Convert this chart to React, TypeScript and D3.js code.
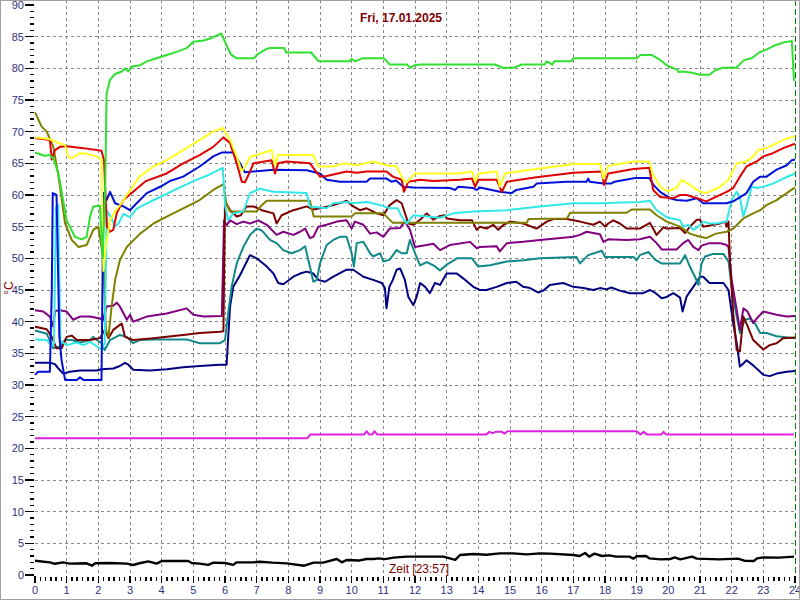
import React from 'react';
import * as d3 from 'd3';

type Pt = [number, number];

// hour of day, °C
const greenData: Pt[] = [[0,66.7],[0.3,66.2],[0.47,66.3],[0.58,65.8],[0.74,63.4],[1.0,56],[1.26,53.4],[1.47,53],[1.63,53.4],[1.74,56.6],[1.84,58.2],[2.05,58.3],[2.14,50],[2.22,62],[2.26,76],[2.37,78.2],[2.53,79.1],[2.74,79.5],[2.84,80],[2.95,79.5],[3.05,80.3],[3.32,80.5],[3.53,81.1],[3.84,81.6],[4.16,82.1],[4.47,82.6],[4.79,83.2],[5.0,84.2],[5.32,84.4],[5.58,84.8],[5.88,85.5],[6.18,82.2],[6.36,81.6],[6.91,81.6],[7.03,82.2],[7.21,82.8],[7.39,83.2],[7.87,83.2],[7.93,82.5],[8.72,82.5],[8.96,81.1],[9.93,81.1],[9.99,81.5],[10.11,81.1],[10.35,81.6],[11.02,81.6],[11.2,80.6],[11.74,80.6],[11.86,80.1],[11.99,80.5],[12.17,80.6],[14.52,80.6],[14.77,80.1],[15.13,80.1],[15.37,80.6],[16.1,80.6],[16.16,81.1],[16.34,80.6],[16.4,81.1],[16.94,81.1],[17.0,81.6],[19.0,81.6],[19.12,82.1],[19.48,82.1],[19.72,81.4],[19.97,80.4],[20.27,79.8],[20.33,79.4],[20.45,79.5],[20.75,79.3],[20.99,79.0],[21.3,79.0],[21.48,79.7],[21.72,80.1],[22.14,80.1],[22.39,81.3],[22.63,81.6],[22.87,82.5],[23.11,83.0],[23.35,83.6],[23.65,84.1],[23.9,84.3],[23.97,78]];

const yellowData: Pt[] = [[0,69.1],[0.47,68.8],[0.74,68.2],[0.95,67.9],[1.05,66.1],[1.16,65.8],[1.42,66.6],[1.63,66.5],[1.95,66.1],[2.1,65.6],[2.16,48],[2.24,52],[2.37,56],[2.53,57.4],[2.7,58.5],[2.9,60],[3.3,62.9],[3.74,64.5],[4.16,65.5],[4.68,67.1],[5.2,68.7],[5.63,70.0],[5.93,70.6],[6.16,68.7],[6.37,66.1],[6.53,63.7],[6.63,64.5],[6.79,66],[7.3,66.8],[7.47,67.1],[7.58,64.7],[7.68,66.3],[8.79,66.3],[8.95,64.5],[9.42,64.5],[9.74,65],[10.16,64.7],[10.68,65.3],[11.1,64.7],[11.42,64.5],[11.63,62.4],[11.74,62.0],[12.0,63.4],[13.4,63.4],[13.8,63.7],[13.9,62.1],[14.0,63.4],[14.58,63.7],[14.68,61.3],[14.84,63.4],[15.95,64.2],[17.0,64.9],[17.84,64.9],[17.95,62.6],[18.1,64.6],[18.9,65.3],[19.4,65.3],[19.5,63.4],[19.74,61.3],[19.97,60.6],[20.26,61.1],[20.42,62.4],[20.68,61.6],[21.0,60.5],[21.2,60.3],[21.63,61.3],[21.9,62.4],[22.16,65],[22.47,65.3],[22.68,66.1],[22.84,67.1],[23.1,67.4],[23.42,68.2],[23.74,68.9],[24.0,69.3]];

const redData: Pt[] = [[0,69],[0.47,68.7],[0.53,65.6],[0.63,67.1],[0.79,67.6],[1.0,67.7],[1.53,67.4],[2.1,67],[2.18,65.5],[2.27,55],[2.37,54.2],[2.47,54.5],[2.58,57.1],[2.79,59.2],[3.1,60.5],[3.5,62.2],[4.16,63.4],[4.68,65],[5.2,66.3],[5.63,67.6],[5.95,69.1],[6.16,68.2],[6.37,65],[6.53,62.1],[6.63,62],[6.79,63.7],[6.9,65],[7.47,65.5],[7.58,63.4],[7.68,65],[7.95,65.3],[8.68,65],[9.0,62.9],[9.21,63],[9.84,63.7],[10.16,63.5],[10.47,63.7],[11.1,63.7],[11.3,62.9],[11.58,62.4],[11.65,60.5],[11.79,62.1],[12.16,62.4],[12.58,62.2],[13.42,62.4],[13.8,62.6],[13.9,61.3],[14.0,62.4],[14.58,62.4],[14.74,60.5],[14.9,62.1],[15.84,62.8],[17.0,63.5],[17.9,63.7],[17.97,61.6],[18.1,63.4],[18.9,64.1],[19.4,64.3],[19.52,60.8],[19.74,59.7],[20.16,59.5],[20.37,60],[20.58,60],[20.9,59.5],[21.2,59],[21.42,59.5],[21.84,60.5],[22.05,61.1],[22.26,62.9],[22.47,64.5],[22.79,65.3],[23.0,66.1],[23.3,66.6],[23.63,67.4],[24.0,68.1]];

const blueData: Pt[] = [[0,31.6],[0.1,32.1],[0.47,32.1],[0.53,45],[0.56,60.3],[0.68,60],[0.77,37.6],[0.84,33.9],[0.95,30.8],[1.32,30.8],[1.42,31.2],[1.53,30.8],[2.1,30.8],[2.16,60.3],[2.26,59.2],[2.37,60.5],[2.53,58.7],[2.79,58.2],[3.0,57.6],[3.21,58.7],[3.53,60.3],[3.95,61.3],[4.26,62.2],[4.68,62.9],[5.2,64.5],[5.63,66.1],[5.89,66.7],[6.26,66.7],[6.47,65],[6.63,63.6],[7.53,64],[8.58,63.9],[9.0,63.4],[9.21,62.4],[9.63,62.1],[10.47,62.1],[10.58,62.6],[11.1,62.6],[11.26,62.1],[11.4,62.3],[11.63,61.3],[11.95,61.2],[13.1,61.1],[13.26,60.8],[13.37,61.3],[13.84,61.1],[13.95,60.8],[14.05,61.2],[14.68,60.5],[15.05,60.3],[15.2,60.8],[15.74,61.3],[15.84,61.8],[16.79,62.1],[17.42,62.1],[17.47,62.6],[17.52,62.1],[17.95,61.8],[18.2,61.8],[18.3,62.1],[18.95,62.7],[19.4,62.7],[19.53,61.6],[19.74,60.5],[20.05,59.5],[20.26,59.2],[20.58,59.1],[20.9,59.5],[21.1,58.7],[21.84,58.7],[22.05,59],[22.47,60.3],[22.68,62.1],[22.9,62.9],[23.1,62.9],[23.42,64],[23.74,64.7],[23.9,65.5],[24.0,65.6]];

const cyanData: Pt[] = [[0,37.2],[0.37,37.1],[0.53,36.2],[0.6,36.5],[0.66,58],[0.73,58.5],[0.8,37],[0.84,36.8],[1.0,36.3],[1.32,36.7],[1.53,36.3],[1.74,36.8],[2.1,35.6],[2.2,36.6],[2.27,57.5],[2.4,56.5],[2.53,55],[2.65,55.6],[2.79,57],[3.0,56.5],[3.2,57.8],[3.5,58.6],[4.0,59.8],[4.5,61],[5.0,62.2],[5.5,63.2],[5.93,64.3],[6.0,58.4],[6.1,56],[6.26,57.1],[6.58,57.4],[6.79,60.3],[7.1,61],[7.53,60.5],[8.58,60.3],[8.68,58.2],[9.21,57.9],[9.42,58.7],[9.84,58.9],[10.05,58.7],[10.47,58.9],[10.9,58.4],[11.2,57.9],[11.45,57.9],[11.58,56.6],[11.74,55.5],[11.95,56.8],[12.37,56.6],[12.79,56.4],[13.21,57.1],[13.84,57.4],[14.9,57.6],[15.95,58.2],[17.0,58.7],[17.95,58.7],[18.5,58.8],[19.1,58.9],[19.42,59.1],[19.63,57.6],[19.95,56.5],[20.37,56],[20.47,55],[20.63,55.3],[20.79,54.5],[20.95,55],[21.1,55.8],[21.3,55.5],[21.5,55.5],[21.84,55.8],[22.0,59.2],[22.16,60.5],[22.26,59.7],[22.37,56.6],[22.47,58.2],[22.63,61.3],[22.79,61.1],[23.0,61.3],[23.3,61.8],[23.63,62.6],[24.0,63.4]];

const oliveData: Pt[] = [[0,73.05],[0.21,70.8],[0.37,70],[0.58,67.6],[0.74,63],[0.84,59.5],[0.95,55.5],[1.16,52.9],[1.37,51.8],[1.63,52.1],[1.84,54.5],[2.0,55],[2.1,51.8],[2.16,49.7],[2.24,38.7],[2.32,37.6],[2.42,42.4],[2.53,46.6],[2.68,49.7],[2.9,51.8],[3.32,53.9],[3.74,55.5],[4.16,56.6],[4.68,57.9],[5.2,59.2],[5.63,60.8],[5.95,61.7],[6.05,58.5],[6.16,57.4],[7.0,57.4],[7.16,58.4],[7.32,59.1],[8.68,59.1],[8.8,56.6],[10.0,56.6],[10.1,57.1],[11.0,57.1],[11.3,55.6],[15.53,55.6],[15.58,56.2],[16.8,56.3],[16.9,57.2],[18.68,57.2],[18.84,57.7],[19.42,57.7],[19.63,56.8],[19.95,55.8],[20.37,55],[20.68,53.9],[21.0,53.4],[21.2,53.2],[21.5,53.9],[21.84,54.2],[22.05,54.7],[22.37,56.3],[22.68,57.1],[22.9,57.6],[23.1,58.4],[23.42,59.2],[23.74,60.3],[24.0,61.2]];

const maroonData: Pt[] = [[0,39.2],[0.37,38.8],[0.53,37.6],[0.68,35.8],[0.84,35.8],[1.0,37.6],[1.16,37.8],[1.32,37.1],[1.74,37.1],[2.05,37.4],[2.2,38.7],[2.32,37.4],[2.47,38.7],[2.68,39.5],[2.74,39.7],[2.84,37.6],[3.1,37.1],[3.74,37.4],[4.16,37.6],[4.68,37.9],[5.2,38.2],[5.84,38.4],[5.95,38.5],[6.0,59],[6.16,57.6],[6.37,56.6],[6.5,56.8],[6.68,58.2],[6.9,58.2],[7.16,57.6],[7.53,57.1],[7.63,55.5],[7.79,56.8],[8.16,57.6],[8.58,58.2],[8.79,57.7],[9.0,57.9],[9.42,58.4],[9.74,58.9],[9.84,59.1],[10.05,58.2],[10.26,57.6],[10.47,57.9],[10.79,57.1],[11.0,56.8],[11.2,58.4],[11.42,59.2],[11.58,58.7],[11.79,55.5],[11.95,55.3],[12.16,56.1],[12.37,57.1],[12.58,56.1],[12.79,56.7],[12.95,56.8],[13.0,56.3],[13.42,56],[13.8,56],[13.95,54.5],[14.05,55],[14.26,54.7],[14.47,55.3],[14.63,54.5],[14.8,55.3],[15.0,55.8],[15.42,55.5],[15.84,54.7],[16.16,55.8],[16.37,56.2],[16.79,56.2],[17.21,55.8],[17.63,55.3],[17.84,55.8],[18.0,55],[18.1,55.5],[18.26,56],[18.47,55.5],[18.68,54.7],[19.1,54.7],[19.42,55.6],[19.63,53.7],[19.84,54.9],[19.95,54.7],[20.37,54.8],[20.53,54],[20.68,55],[20.9,56.1],[21.0,56.1],[21.1,55],[21.3,55.2],[21.63,55.5],[21.79,55.8],[21.84,55],[21.9,55.8],[21.95,49.2],[22.05,41.3],[22.16,35.5],[22.26,35.3],[22.37,40.8],[22.47,39.7],[22.68,37.1],[23.0,35.6],[23.2,36.3],[23.42,36.6],[23.63,37.4],[24.0,37.5]];

const purpleData: Pt[] = [[0,41.8],[0.26,41.6],[0.47,40.8],[0.58,39.2],[0.63,41.7],[0.79,41.8],[1.0,41.6],[1.21,40.3],[1.42,40.8],[1.74,40.8],[2.05,40.5],[2.15,40.3],[2.26,42.4],[2.47,42.5],[2.58,43],[2.68,42.4],[2.9,40.3],[3.0,41.1],[3.1,40],[3.53,40.8],[4.16,41.3],[4.79,42.1],[5.0,41.1],[5.32,40.8],[5.9,40.9],[5.97,56],[6.05,55.2],[6.16,56],[6.37,55.4],[6.58,55.8],[6.79,55.5],[7.05,56],[7.32,55.3],[7.63,53.7],[7.84,54.2],[8.16,53.7],[8.37,54.2],[8.53,54.7],[8.68,53.2],[8.79,53.4],[8.95,55],[9.21,55.3],[9.53,55.8],[9.84,56],[10.0,54.7],[10.1,55.8],[10.37,55.3],[10.58,53.9],[10.79,54.1],[11.0,53.4],[11.2,54.7],[11.53,54.8],[11.68,55.8],[11.84,54.5],[12.0,51.8],[12.37,52.1],[12.58,52.3],[12.79,51.3],[13.1,52.1],[13.74,52.6],[13.95,51.6],[14.05,51.8],[14.58,51.9],[14.68,51.1],[14.9,52.4],[15.42,52.6],[15.95,52.9],[17.0,53.4],[17.21,53.7],[17.42,54.2],[17.84,53.8],[17.95,52.6],[18.1,53],[18.68,52.9],[19.1,53],[19.42,53.4],[19.63,52.4],[19.79,51.4],[20.26,51.4],[20.47,52.4],[20.63,52.9],[20.79,51.8],[20.95,51.3],[21.05,52],[21.3,52.4],[21.63,52.4],[21.84,52.1],[21.9,51.8],[22.0,46.6],[22.16,41.8],[22.26,38.7],[22.37,42.1],[22.5,41.6],[22.68,39.8],[22.79,40.5],[23.0,41.6],[23.42,41.1],[23.74,40.8],[24.0,40.9]];

const tealData: Pt[] = [[0,38.6],[0.37,38.1],[0.58,35.8],[0.79,36.1],[0.95,37.1],[1.16,37.1],[1.42,36.7],[1.74,37.1],[1.84,37.6],[1.95,37.1],[2.1,36.6],[2.2,35.5],[2.37,37.1],[2.68,37.9],[2.9,37.6],[3.1,36.6],[3.3,37.1],[3.74,37.2],[4.79,37.2],[5.2,36.6],[5.84,36.6],[6.0,37.1],[6.1,41.3],[6.21,45.5],[6.37,49.2],[6.58,51.8],[6.79,53.7],[7.0,54.7],[7.16,54.4],[7.42,52.9],[7.63,52.4],[7.84,51.3],[8.1,50.8],[8.37,51.3],[8.53,51.9],[8.68,48.7],[8.79,46.3],[8.9,46.6],[9.0,49.2],[9.21,52.1],[9.42,52.9],[9.63,53.4],[9.84,53.4],[10.0,50.8],[10.07,48.7],[10.16,52.4],[10.37,52.6],[10.58,50.8],[10.68,50.3],[10.9,50.8],[11.0,49.5],[11.2,49.8],[11.42,51.3],[11.58,50.8],[11.74,50.8],[11.84,52.9],[12.0,50.8],[12.16,48.9],[12.37,49.4],[12.58,48.9],[12.79,48.1],[13.0,49],[13.2,49.6],[13.32,50],[13.8,50],[14.0,48.7],[14.37,48.9],[14.9,49.5],[15.42,49.7],[15.95,50],[17.1,50.2],[17.21,49.2],[17.47,50.5],[17.9,51.2],[18.0,50.2],[18.9,50.2],[19.0,49.7],[19.1,50.5],[19.37,51],[19.58,49.8],[19.79,49.2],[20.37,49.2],[20.53,50.5],[20.68,48.7],[20.84,47.1],[20.95,45.8],[21.05,49.2],[21.16,50.3],[21.42,50.7],[21.74,50.7],[21.9,49.5],[22.0,45.5],[22.1,42.4],[22.26,38.2],[22.42,40.3],[22.58,40.5],[22.74,39.7],[22.9,38.2],[23.1,38.2],[23.42,37.7],[24.0,37.4]];

const navyData: Pt[] = [[0,33.5],[0.47,33.5],[0.63,33.3],[0.74,32.6],[0.89,31.8],[1.1,32.1],[1.42,32.3],[1.95,32.3],[2.1,32.5],[2.47,32.6],[2.68,33],[2.84,33.5],[2.95,33.2],[3.1,32.4],[3.63,32.3],[4.16,32.5],[4.68,32.8],[5.2,33],[5.84,33.2],[6.05,33.2],[6.16,42.4],[6.26,45.5],[6.47,47.3],[6.79,50.5],[7.0,50],[7.32,48.7],[7.53,47.6],[7.68,46.1],[7.84,45.9],[8.16,47.1],[8.37,47.6],[8.58,47.9],[8.79,47.6],[8.95,46.6],[9.16,46.3],[9.42,47.1],[9.84,48.2],[10.05,48.2],[10.37,47.1],[10.68,46.6],[10.95,46.1],[11.05,45.3],[11.1,42.1],[11.19,45.5],[11.3,46.6],[11.42,48.2],[11.53,48.4],[11.68,46.6],[11.79,43.9],[11.95,42.6],[12.05,43.9],[12.16,46.1],[12.32,45.5],[12.47,44.5],[12.63,46.1],[12.79,45.8],[13.0,47.6],[13.32,47.6],[13.53,46.8],[13.84,45.5],[14.05,45],[14.26,45],[14.58,45.5],[14.9,46.1],[15.2,46.3],[15.42,45.5],[15.63,45.3],[15.9,44.6],[16.05,44.9],[16.26,45.8],[16.68,46.1],[17.0,45.5],[17.32,45.3],[17.63,45],[17.84,45.3],[18.05,45.1],[18.2,45.4],[18.47,44.9],[18.79,44.5],[19.2,44.5],[19.42,45],[19.6,44.5],[19.79,43.7],[19.95,43.9],[20.16,44.5],[20.37,43.8],[20.45,41.6],[20.58,44],[20.79,45.5],[21.0,47.1],[21.1,47.1],[21.3,46.1],[21.74,46.1],[21.9,45],[22.05,39.7],[22.16,36.6],[22.26,32.9],[22.37,33.4],[22.47,33.9],[22.68,33.1],[23.0,31.6],[23.2,31.4],[23.42,31.8],[23.74,32.1],[24.0,32.2]];

const magentaData: Pt[] = [[0,21.6],[8.6,21.6],[8.7,22.2],[10.4,22.2],[10.47,22.7],[10.55,22.2],[10.65,22.2],[10.72,22.7],[10.8,22.2],[14.25,22.2],[14.35,22.6],[14.45,22.4],[14.55,22.6],[14.75,22.6],[14.82,22.3],[14.92,22.7],[19.0,22.7],[19.12,22.2],[19.22,22.6],[19.32,22.2],[19.78,22.2],[19.85,22.6],[19.92,22.2],[23.97,22.2]];

const blackData: Pt[] = [[0,2.26],[0.47,2.0],[0.63,1.77],[0.89,2.0],[1.1,1.8],[1.63,1.85],[1.8,1.47],[1.9,1.85],[2.37,1.9],[2.9,1.8],[3.1,1.58],[3.3,1.85],[3.58,2.15],[3.84,1.8],[4.0,2.2],[4.84,2.2],[4.95,1.9],[5.2,1.8],[5.47,1.6],[5.63,1.95],[6.0,1.9],[6.26,1.6],[6.37,2.0],[6.9,2.0],[7.1,2.1],[7.5,1.95],[7.95,1.84],[8.5,1.47],[8.8,1.95],[9.1,1.95],[9.53,2.53],[9.69,2.0],[9.84,2.37],[10.26,2.3],[10.47,2.53],[10.7,2.53],[10.84,2.63],[11.05,2.5],[11.32,2.74],[11.74,2.9],[12.37,2.9],[12.9,2.9],[13.27,2.4],[13.42,3.16],[13.84,3.32],[14.26,3.2],[14.68,3.42],[15.1,3.42],[15.53,3.26],[15.95,3.42],[16.26,3.37],[17.0,3.16],[17.2,3.0],[17.37,3.47],[17.5,2.9],[17.67,3.37],[17.9,3.0],[18.14,3.1],[18.35,2.9],[18.77,2.9],[18.9,2.58],[19.0,2.95],[19.3,3.0],[19.4,2.63],[19.76,2.47],[20.07,2.53],[20.2,2.79],[20.38,2.47],[20.75,2.9],[20.9,2.58],[21.6,2.47],[22.2,2.58],[22.4,2.26],[22.7,2.21],[22.8,2.63],[23.0,2.79],[23.5,2.74],[23.97,2.9]];

const seriesList = [magentaData, blackData, navyData, tealData, purpleData, maroonData, oliveData, cyanData, blueData, redData, yellowData, greenData];
const seriesColors = ['#e020e0', '#000000', '#000080', '#108888', '#800080', '#7a0000', '#808000', '#30e8e8', '#0010d8', '#e00000', '#ffff20', '#30e030'];

const yMajorTicks = d3.range(0, 91, 5);
const hourTicks = d3.range(0, 25, 1);
const titleText = 'Fri, 17.01.2025';
const xAxisTitle = 'Zeit [23:57]';
const yAxisTitle = '°C';

const W = 800;
const H = 600;

export default function App() {
  const x = d3.scaleLinear().domain([0, 24]).range([35, 795]);
  const y = d3.scaleLinear().domain([0, 90]).range([575, 5]);
  const line = d3.line<Pt>().x(d => x(d[0])).y(d => y(d[1]));

  const yMinor = d3.range(0, 91, 1).filter(v => v % 5 !== 0);
  const xMinor = d3.range(0, 24 * 6 + 1).filter(v => v % 6 !== 0).map(v => v / 6);
  const font = '"Liberation Sans", Arial, sans-serif';
  const tickColor = '#303080';

  return (
    <div style={{ position: 'absolute', left: 0, top: 0 }}>
      <svg width={W} height={H} style={{ display: 'block', background: '#fff' }}>
        {/* grid */}
        <g stroke="#888" strokeWidth={1} strokeDasharray="3,3" shapeRendering="crispEdges">
          {hourTicks.filter(h => h > 0 && h < 24).map(h => (
            <line key={'vx' + h} x1={x(h)} x2={x(h)} y1={0} y2={575} />
          ))}
          {yMajorTicks.filter(v => v > 0 && v < 90).map(v => (
            <line key={'gy' + v} x1={35} x2={795} y1={y(v)} y2={y(v)} />
          ))}
        </g>
        <line x1={x(24)} x2={x(24)} y1={0} y2={588} stroke="#008000" strokeWidth={1} strokeDasharray="6,3" shapeRendering="crispEdges" />

        {/* axis ticks */}
        <g stroke="#000" strokeWidth={1.5} shapeRendering="crispEdges">
          {yMajorTicks.map(v => <line key={'ym' + v} x1={25} x2={34} y1={y(v)} y2={y(v)} />)}
          {yMinor.map(v => <line key={'yn' + v} x1={30} x2={34} y1={y(v)} y2={y(v)} />)}
          {hourTicks.map(h => <line key={'xm' + h} x1={x(h)} x2={x(h)} y1={576} y2={583} />)}
          {xMinor.map(h => <line key={'xn' + h} x1={x(h)} x2={x(h)} y1={577} y2={581} />)}
        </g>
        <g fontFamily={font} fontSize={11} fill={tickColor}>
          {yMajorTicks.map(v => (
            <text key={'yl' + v} x={24} y={y(v)} dy="0.35em" textAnchor="end">{v}</text>
          ))}
          {hourTicks.map(h => (
            <text key={'xl' + h} x={x(h)} y={594} textAnchor="middle">{h}</text>
          ))}
        </g>

        {/* series */}
        <g fill="none" strokeLinejoin="round">
          {seriesList.map((s, i) => (
            <path key={i} d={line(s) || ''} stroke={seriesColors[i]} strokeWidth={seriesColors[i] === '#000000' ? 2.4 : 2} />
          ))}
        </g>

        <text x={401} y={22} textAnchor="middle" fontFamily={font} fontSize={12} fontWeight="bold" fill="#800000">{titleText}</text>
        <text x={419} y={573} textAnchor="middle" fontFamily={font} fontSize={12} fill="#800000">{xAxisTitle}</text>
        <text transform="translate(13,288) rotate(-90)" textAnchor="middle" fontFamily={font} fontSize={12} fill="#800000">{yAxisTitle}</text>

        <rect x={0.5} y={0.5} width={W - 1} height={H - 1} fill="none" stroke="#a0a0a0" />
      </svg>
    </div>
  );
}
